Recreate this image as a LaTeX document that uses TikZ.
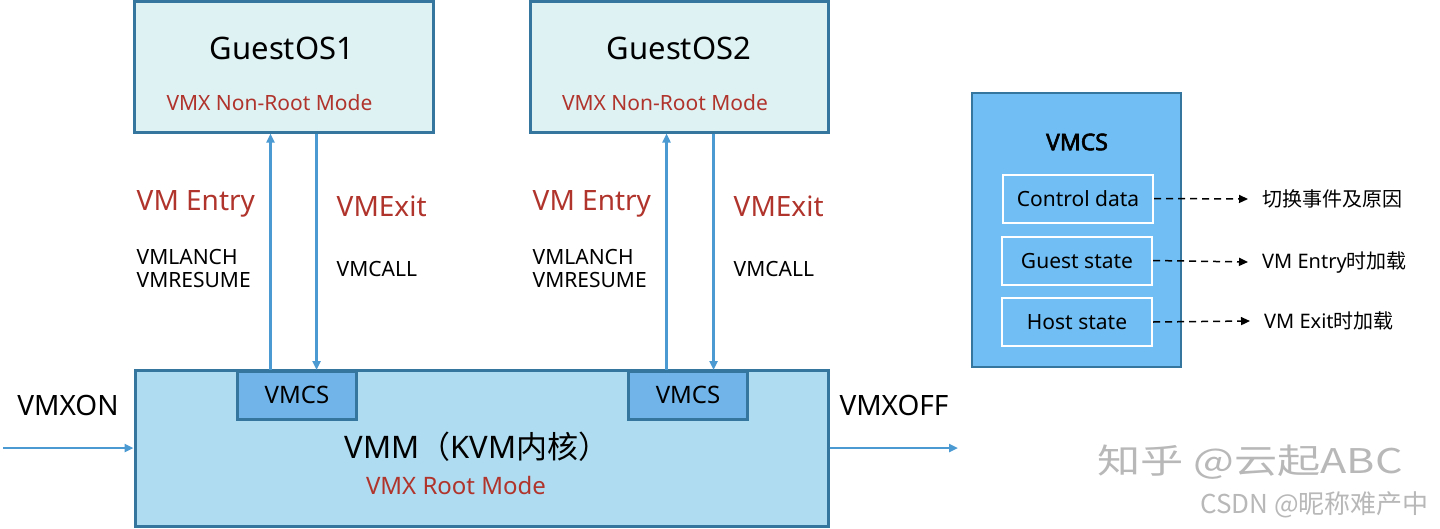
\documentclass[tikz,border=0pt]{standalone}
\usepackage{fontspec}
\setmainfont{Noto Sans}
\newfontfamily\cjk{Noto Sans CJK SC}
\newfontfamily\heavy{Noto Sans}[FakeBold=2.5]
\usetikzlibrary{arrows.meta,calc,positioning}

\definecolor{vmred}{RGB}{176,52,44}
\definecolor{vmline}{RGB}{52,118,158}
\definecolor{vmarrow}{RGB}{76,154,210}
\definecolor{guestfill}{RGB}{222,242,244}
\definecolor{vmmfill}{RGB}{175,220,240}
\definecolor{vmcsfill}{RGB}{112,180,234}
\definecolor{panelfill}{RGB}{112,190,244}

\newcommand{\fs}[1]{\fontsize{#1}{#1}\selectfont}

\begin{document}
\begin{tikzpicture}
  [
  x=1pt,y=-1pt,
  guest/.style={rectangle,draw=vmline,fill=guestfill,line width=3pt,inner sep=0pt},
  vmm/.style={rectangle,draw=vmline,fill=vmmfill,line width=3pt,inner sep=0pt},
  vmcs/.style={rectangle,draw=vmline,fill=vmcsfill,line width=2.5pt,inner sep=0pt,
    minimum width=119pt,minimum height=48pt,font=\fs{24}},
  panel/.style={rectangle,draw=vmline,fill=panelfill,line width=2.5pt,inner sep=0pt},
  field/.style={rectangle,draw=white,line width=2pt,inner sep=0pt,
    minimum width=150pt,minimum height=48pt,font=\fs{21}},
  mode/.style={text=vmred,font=\fs{21}},
  event/.style={text=vmred,font=\fs{28},anchor=west,inner sep=0pt},
  instr/.style={font=\fs{21},anchor=west,align=left,inner sep=0pt},
  note/.style={font=\fs{20},anchor=west,inner sep=0pt},
  wmark/.style={text=black!28,inner sep=0pt},
  flow/.style={draw=vmarrow,line width=2.5pt,-{Triangle[length=9pt,width=8pt]}},
  ref/.style={draw=black,line width=1.5pt,dash pattern=on 7pt off 5pt,
    -{Triangle[length=9pt,width=8pt]}}
  ]
  \useasboundingbox (0,0) rectangle (1440,528);

  % guests
  \node[guest,minimum width=299pt,minimum height=131pt] (guestA) at (283.5,66.5) {};
  \node[guest,minimum width=298pt,minimum height=131pt] (guestB) at (679,66.5) {};
  \node[font=\fs{31}] (nameA) at ($(guestA.center)+(-1.5,-18.5)$) {GuestOS1};
  \node[font=\fs{31}] (nameB) at ($(guestB.center)+(0,-18.5)$) {GuestOS2};
  \node[mode] (modeA) at ($(guestA.center)+(-14,36.5)$) {VMX Non-Root Mode};
  \node[mode] (modeB) at ($(guestB.center)+(-14,36.5)$) {VMX Non-Root Mode};

  % VMM with the two VMCS
  \node[vmm,minimum width=693pt,minimum height=156pt] (vmm) at (481.5,448) {};
  \node[vmcs,anchor=north] (vmcsA) at (297,370) {VMCS};
  \node[vmcs,anchor=north] (vmcsB) at (688,370) {VMCS};
  \node[font=\fs{31}] (kvm) at (477,447) {VMM{\cjk（}KVM{\cjk 内核）}};
  \node[mode,font=\fs{24}] (root) at (456,485) {VMX Root Mode};

  % entry / exit
  \draw[flow] (vmcsA.north -| {$(guestA.south west)+(138,0)$}) -- ($(guestA.south west)+(138,0)$);
  \draw[flow] ($(guestA.south west)+(184,0)$) -- (vmcsA.north -| {$(guestA.south west)+(184,0)$});
  \draw[flow] (vmcsB.north -| {$(guestB.south west)+(138,0)$}) -- ($(guestB.south west)+(138,0)$);
  \draw[flow] ($(guestB.south west)+(185,0)$) -- (vmcsB.north -| {$(guestB.south west)+(185,0)$});

  \node[event] (entryA) at ($(guestA.south west)+(4,70)$) {VM Entry};
  \node[event] (exitA) at ($(guestA.south west)+(204,73)$) {VMExit};
  \node[instr] (launchA) at ($(guestA.south west)+(4,135)$) {VMLANCH\\[1.5pt]VMRESUME};
  \node[instr] (callA) at ($(guestA.south west)+(204,135)$) {VMCALL};
  \node[event] (entryB) at ($(guestB.south west)+(4,70)$) {VM Entry};
  \node[event] (exitB) at ($(guestB.south west)+(205,73)$) {VMExit};
  \node[instr] (launchB) at ($(guestB.south west)+(4,135)$) {VMLANCH\\[1.5pt]VMRESUME};
  \node[instr] (callB) at ($(guestB.south west)+(205,135)$) {VMCALL};

  % on / off
  \coordinate (onstart) at (3,448);
  \coordinate (offend) at (958,448);
  \draw[flow] (onstart) -- (vmm.west);
  \draw[flow] (vmm.east) -- (offend);
  \node[font=\fs{28}] (vmxon) at (68,405) {VMXON};
  \node[font=\fs{28}] (vmxoff) at (894,405) {VMXOFF};

  % VMCS fields
  \node[panel,minimum width=209pt,minimum height=274pt] (panel) at (1076.5,230) {};
  \node[font=\heavy\fs{23}] (title) at (1077,142) {VMCS};
  \node[field] (ctrl) at (1078,198.5) {Control data};
  \node[field] (gstate) at (1077,260.5) {Guest state};
  \node[field] (hstate) at (1077,322) {Host state};
  \coordinate (ctrlend) at (1248,199);
  \coordinate (gend) at (1248,262);
  \coordinate (hend) at (1250,321);
  \draw[ref] (ctrl.east) -- (ctrlend);
  \draw[ref] (gstate.east) -- (gend);
  \draw[ref] (hstate.east) -- (hend);
  \node[note,font=\cjk\fs{20}] (why) at (1262,199) {切换事件及原因};
  \node[note] (onentry) at (1262,262) {VM Entry{\cjk 时加载}};
  \node[note] (onexit) at (1264,321) {VM Exit{\cjk 时加载}};

  % watermarks
  \node[wmark,font=\cjk\fs{34},anchor=west] (zhihu) at (1097,462) {\scalebox{1.27}[1]{知乎 @云起ABC}};
  \node[wmark,font=\cjk\fs{26},anchor=west] (csdn) at (1200,505) {CSDN @昵称难产中};
\end{tikzpicture}
\end{document}
